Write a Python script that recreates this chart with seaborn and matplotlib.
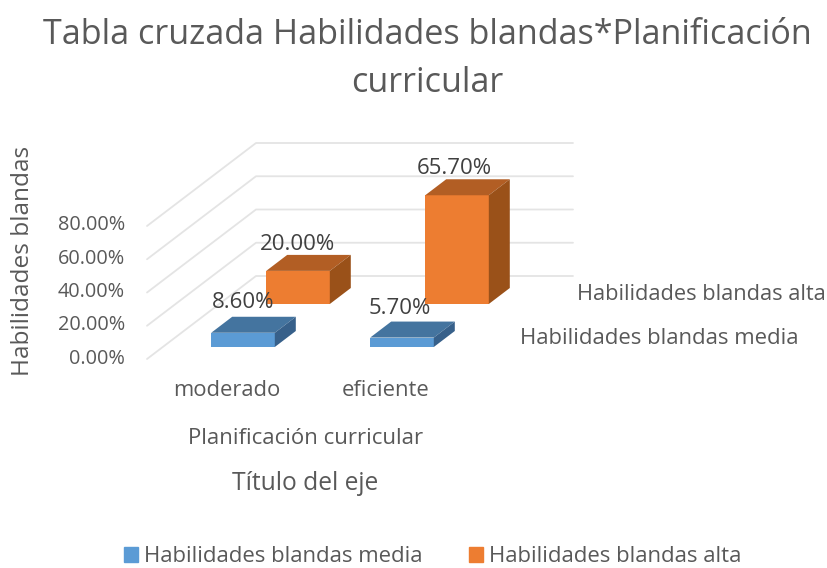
import seaborn as sns
import matplotlib.pyplot as plt
from matplotlib.patches import Polygon, Patch
from matplotlib.lines import Line2D
from matplotlib.transforms import Affine2D

categories = ["moderado", "eficiente"]
media = [8.6, 5.7]
alta = [20.0, 65.7]
ticks = [0, 20, 40, 60, 80]
tick_labels = ["0.00%", "20.00%", "40.00%", "60.00%", "80.00%"]

W, H = 828, 568
GREY = "#595959"
GRID = "#e4e4e4"

sns.set_theme(style="white")
plt.rcParams["font.family"] = ["Open Sans", "DejaVu Sans"]

fig = plt.figure(figsize=(W / 100, H / 100), dpi=100, facecolor="white")


def make_axes(left, width, bottom_px, top_px):
    # rectangle given in image pixels, y going down
    ax = fig.add_axes([left / W, 1 - bottom_px / H, width / W, (bottom_px - top_px) / H])
    ax.set_xlim(-0.5, 1.5)
    ax.set_ylim(0, 80)
    ax.patch.set_alpha(0)
    sns.despine(ax=ax, left=True, bottom=True)
    return ax


# back planes, gridlines and axis labels
base = make_axes(147, 318, 359, 226)
base.set_xticks([0, 1], categories, fontsize=15.8, color=GREY)
base.set_yticks(ticks, tick_labels, fontsize=14.3, color=GREY)
base.tick_params(axis="x", length=0, pad=15)
base.tick_params(axis="y", length=0, pad=16)
for lab in base.get_yticklabels():
    lab.set_transform(lab.get_transform() + Affine2D().translate(0, 3))

for t in ticks:
    x0, y0 = base.transData.transform((-0.5, t))
    base.add_line(Line2D([x0, x0 + 109, x0 + 426], [y0, y0 + 83, y0 + 83], color=GRID,
                         lw=1.3, transform=None, clip_on=False))


def draw_series(values, left, bottom_px, front, top, side):
    ax = make_axes(left, 318, bottom_px, bottom_px - 132.4)
    sns.barplot(x=categories, y=values, color=front, saturation=1, width=0.4, ax=ax, linewidth=0)
    ax.set_xlim(-0.5, 1.5)
    ax.set_ylim(0, 80)
    ax.set_xticks([])
    ax.set_yticks([])
    ax.set_xlabel("")
    ax.set_ylabel("")
    dx, dy = 21, 16
    for bar, v in zip(ax.patches, values):
        # depth faces built from the corners of the seaborn bar
        (x0, y0), (x1, y1) = ax.transData.transform(
            [(bar.get_x(), 0), (bar.get_x() + bar.get_width(), v)])
        ax.add_patch(Polygon([(x0, y1), (x1, y1), (x1 + dx, y1 + dy), (x0 + dx, y1 + dy)],
                             color=top, lw=0, transform=None, clip_on=False))
        ax.add_patch(Polygon([(x1, y0), (x1 + dx, y0 + dy), (x1 + dx, y1 + dy), (x1, y1)],
                             color=side, lw=0, transform=None, clip_on=False))
    return ax


ax_alta = draw_series(alta, 218.5, 304, "#ED7D31", "#B25E24", "#9A5119")
ax_media = draw_series(media, 163.5, 347, "#5B9BD5", "#44749F", "#37608A")


def px_text(x, y, s, size=14.5, **kw):
    fig.text(x / W, 1 - y / H, s, fontsize=size, color=kw.pop("color", GREY),
             ha=kw.pop("ha", "center"), va="center", **kw)


# value labels
px_text(243, 302, "8.60%", size=16, color="#404040")
px_text(298, 244, "20.00%", size=16, color="#404040")
px_text(400, 308, "5.70%", size=16, color="#404040")
px_text(454, 168, "65.70%", size=16, color="#404040")

# depth axis labels
px_text(577, 295, "Habilidades blandas alta", size=15.7, ha="left")
px_text(520, 338, "Habilidades blandas media", size=15.9, ha="left")

# titles
px_text(427, 35, "Tabla cruzada Habilidades blandas*Planificación", size=24.6)
px_text(427, 83, "curricular", size=24.6)
px_text(23, 261, "Habilidades blandas", size=17.6, rotation=90)
px_text(306, 438, "Planificación curricular", size=16)
px_text(305, 483, "Título del eje", size=17.7)

handles = [Patch(color="#5B9BD5"), Patch(color="#ED7D31")]
fig.legend(handles, ["Habilidades blandas media", "Habilidades blandas alta"],
           loc="center", bbox_to_anchor=(433 / W, 1 - 557 / H), ncols=2, frameon=False,
           fontsize=15.9, labelcolor=GREY, handlelength=0.64, handleheight=0.64,
           handletextpad=0.27, columnspacing=2.1)

fig.savefig("out.png", dpi=100)
